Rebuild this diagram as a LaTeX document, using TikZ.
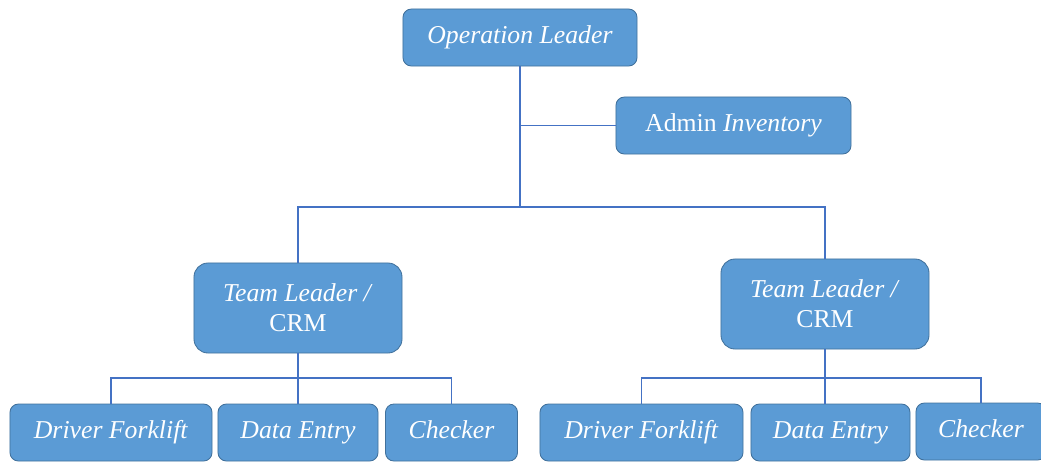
\documentclass[tikz,border=0pt]{standalone}
\usepackage{fontspec}
\setmainfont{Liberation Serif}
\definecolor{boxfill}{HTML}{5B9BD5}
\definecolor{boxedge}{HTML}{41719C}
\definecolor{linkblue}{HTML}{4472C4}

\begin{document}
\begin{tikzpicture}[
    x=0.025cm, y=-0.025cm,
    box/.style={draw=boxedge, fill=boxfill, line width=0.6pt, rounded corners=6pt,
                text=white, align=center, inner sep=0pt,
                font=\fontsize{18.3}{21.5}\selectfont},
    bigbox/.style={box, rounded corners=10pt, minimum width=5.2cm, minimum height=2.25cm},
    leaf/.style={box, minimum height=1.425cm, text height=0.9em, text depth=0.1em},
    link/.style={draw=linkblue, line width=0.9pt},
  ]
  \useasboundingbox (0,0) rectangle (1041,463);
  \clip (0,0) rectangle (1041,463);

  % ---- top level
  \node[leaf, minimum width=5.85cm] (op) at (520,37.5)
    {\textit{Operation Leader}};
  \node[leaf, minimum width=5.875cm] (adm) at (733.5,125.5)
    {Admin \textit{Inventory}};

  % ---- team leaders
  \node[bigbox] (tl1) at (298,308) {\textit{Team Leader /}\\CRM};
  \node[bigbox] (tl2) at (825,304) {\textit{Team Leader /}\\CRM};

  % ---- staff, left team
  \node[leaf, minimum width=5.05cm] (df1) at (111,432.5) {\textit{Driver Forklift}};
  \node[leaf, minimum width=4.0cm]  (de1) at (298,432.5) {\textit{Data Entry}};
  \node[leaf, minimum width=3.3cm]  (ck1) at (451.5,432.5) {\textit{Checker}};

  % ---- staff, right team
  \node[leaf, minimum width=5.075cm] (df2) at (641.5,432.5) {\textit{Driver Forklift}};
  \node[leaf, minimum width=3.975cm] (de2) at (830.5,432.5) {\textit{Data Entry}};
  \node[leaf, minimum width=3.25cm]  (ck2) at (981,431.5) {\textit{Checker}};

  % ---- connectors
  \coordinate (hub) at (520,207);
  \draw[link] (op.south) -- (hub);
  \draw[link] (op.south |- adm.west) -- (adm.west);
  \draw[link] (tl1.north) |- (hub) -| (tl2.north);

  \coordinate (bus1) at (298,378);
  \coordinate (bus2) at (825,378);
  \draw[link] (tl1.south) -- (tl1.south |- de1.north);
  \draw[link] (df1.north) |- (bus1) -| (ck1.north);
  \draw[link] (tl2.south) -- (tl2.south |- de2.north);
  \draw[link] (df2.north) |- (bus2) -| (ck2.north);
\end{tikzpicture}
\end{document}
